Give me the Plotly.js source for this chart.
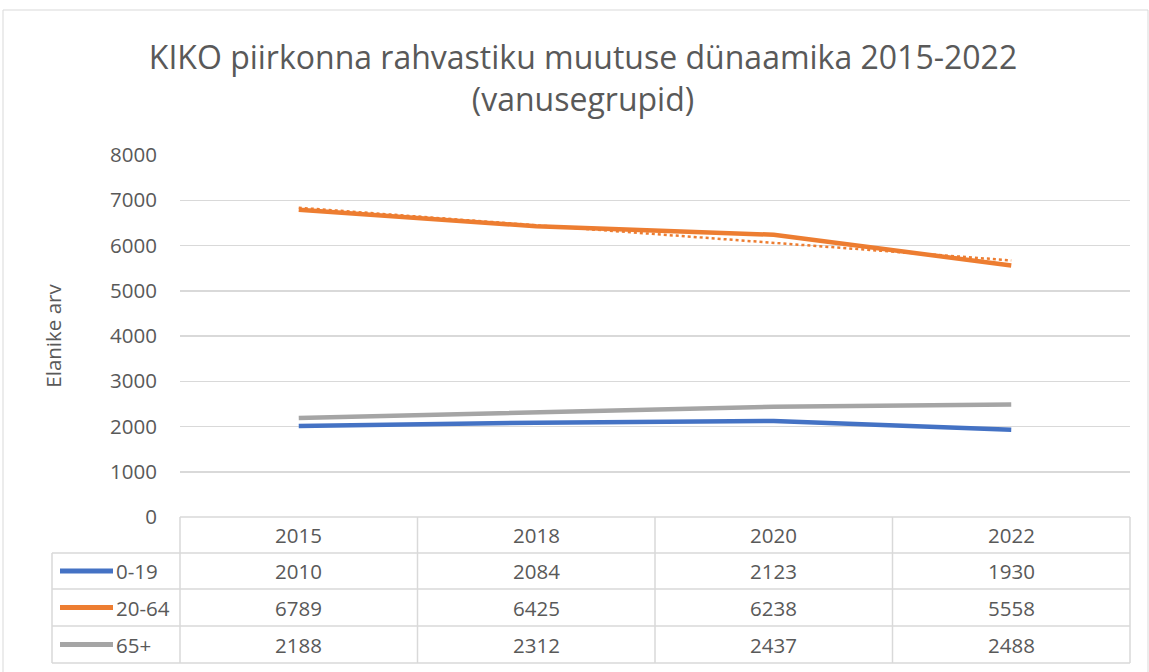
<!DOCTYPE html>
<html>
<head>
<meta charset="utf-8">
<script src="https://cdn.plot.ly/plotly-3.0.1.min.js"></script>
<style>
html,body{margin:0;padding:0;background:#fff;}
#chart{width:1149px;height:672px;}
</style>
</head>
<body>
<div id="chart"></div>
<script>
const years = ["2015", "2018", "2020", "2022"];
const seriesNames = ["0-19", "20-64", "65+"];
const age0_19 = [2010, 2084, 2123, 1930];
const age20_64 = [6789, 6425, 6238, 5558];
const age65plus = [2188, 2312, 2437, 2488];
const seriesColors = ["#4472C4", "#ED7D31", "#A5A5A5"];
const yTicks = [0, 1000, 2000, 3000, 4000, 5000, 6000, 7000, 8000];

const allSeries = [age0_19, age20_64, age65plus];
const xIdx = years.map((_, i) => i);

// linear trendline (least squares) for 20-64, as in the source chart
function linearTrend(vals) {
  const n = vals.length;
  const xs = vals.map((_, i) => i + 1);
  const mx = xs.reduce((a, b) => a + b, 0) / n;
  const my = vals.reduce((a, b) => a + b, 0) / n;
  let num = 0, den = 0;
  for (let i = 0; i < n; i++) { num += (xs[i] - mx) * (vals[i] - my); den += (xs[i] - mx) ** 2; }
  const s = num / den;
  return xs.map(x => my + s * (x - mx));
}

const W = 1149, H = 672;
const L = 180, R = 1130, T = 155, B = 517;
const pxX = p => (p - L) / (R - L);
const pxY = p => (B - p) / (B - T);

const traces = allSeries.map((vals, k) => ({
  x: xIdx, y: vals, type: "scatter", mode: "lines",
  name: seriesNames[k],
  line: { color: seriesColors[k], width: 4.5 },
  hoverinfo: "skip"
}));
traces.push({
  x: xIdx, y: linearTrend(age20_64), type: "scatter", mode: "lines",
  name: "trend", line: { color: seriesColors[1], width: 2.5, dash: "dot" },
  hoverinfo: "skip"
});

const gridC = "#d9d9d9";
const txtC = "#595959";
const shapes = [];
const annotations = [];
function hline(y, x0, x1) {
  shapes.push({ type: "line", xref: "paper", yref: "paper", x0: pxX(x0), x1: pxX(x1), y0: pxY(y), y1: pxY(y), line: { color: gridC, width: 1.5 } });
}
function vline(x, y0, y1) {
  shapes.push({ type: "line", xref: "paper", yref: "paper", x0: pxX(x), x1: pxX(x), y0: pxY(y0), y1: pxY(y1), line: { color: gridC, width: 1.5 } });
}
// outer chart border
shapes.push({ type: "rect", xref: "paper", yref: "paper", x0: pxX(3), x1: pxX(1148), y0: pxY(10), y1: pxY(700), line: { color: gridC, width: 1 } });

// data table
const colEdges = [180, 417.5, 655, 892.5, 1130];
const rowEdges = [517, 553, 589, 626, 663];
hline(517, 180, 1130);
for (let r = 1; r < rowEdges.length; r++) hline(rowEdges[r], 52, 1130);
colEdges.forEach(x => vline(x, 517, 663));
vline(52, 553, 663);

const fam = "'Open Sans', 'Noto Sans', sans-serif";
const fontT = { family: fam, size: 20.5, color: txtC };
years.forEach((yr, i) => {
  const cx = (colEdges[i] + colEdges[i + 1]) / 2;
  annotations.push({ xref: "paper", yref: "paper", x: pxX(cx), y: pxY(535), text: yr, showarrow: false, xanchor: "center", yanchor: "middle", font: fontT });
  allSeries.forEach((vals, k) => {
    const cy = (rowEdges[k + 1] + rowEdges[k + 2]) / 2;
    annotations.push({ xref: "paper", yref: "paper", x: pxX(cx), y: pxY(cy), text: String(vals[i]), showarrow: false, xanchor: "center", yanchor: "middle", font: fontT });
  });
});
seriesNames.forEach((nm, k) => {
  const cy = (rowEdges[k + 1] + rowEdges[k + 2]) / 2;
  shapes.push({ type: "line", xref: "paper", yref: "paper", x0: pxX(60), x1: pxX(113), y0: pxY(cy), y1: pxY(cy), line: { color: seriesColors[k], width: 5 } });
  annotations.push({ xref: "paper", yref: "paper", x: pxX(114), y: pxY(cy), text: nm, showarrow: false, xanchor: "left", yanchor: "middle", font: fontT });
});

const layout = {
  width: W, height: H,
  margin: { l: L, r: W - R, t: T, b: H - B, pad: 0 },
  paper_bgcolor: "#ffffff", plot_bgcolor: "#ffffff",
  showlegend: false,
  title: {
    text: "KIKO piirkonna rahvastiku muutuse dünaamika 2015-2022<br>(vanusegrupid)",
    font: { family: fam, size: 32, color: txtC },
    x: 583 / W, xanchor: "center", xref: "container",
    y: 1 - 69 / H, yanchor: "middle", yref: "container"
  },
  xaxis: {
    range: [-0.5, 3.5], showticklabels: false, showgrid: false, zeroline: false,
    showline: false, ticks: "", fixedrange: true
  },
  yaxis: {
    range: [0, 8000], tickvals: yTicks, ticktext: yTicks.map(String),
    showgrid: true, gridcolor: gridC, gridwidth: 1.5, zeroline: false, showline: false,
    ticks: "", ticklabelstandoff: 22,
    tickfont: fontT,
    title: { text: "Elanike arv", font: fontT, standoff: 42 },
    fixedrange: true
  },
  shapes: shapes,
  annotations: annotations
};

Plotly.newPlot("chart", traces, layout, { displayModeBar: false, staticPlot: true });
</script>
</body>
</html>
